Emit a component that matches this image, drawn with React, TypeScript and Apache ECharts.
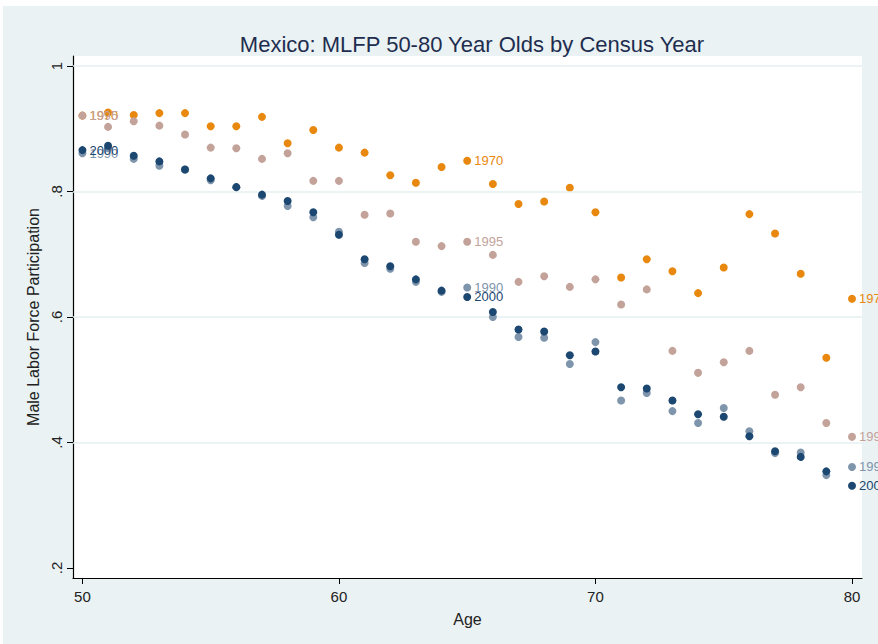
import React, { useEffect, useRef } from "react";
import * as echarts from "echarts";

// Age of respondents (x axis)
const ages: number[] = Array.from({ length: 31 }, (_, i) => 50 + i);

// Male labor force participation by census year
const mlfp1970: number[] = [
  0.921, 0.926, 0.922, 0.925, 0.925, 0.904, 0.904, 0.919, 0.877, 0.898,
  0.870, 0.862, 0.826, 0.814, 0.839, 0.849, 0.812, 0.780, 0.784, 0.806,
  0.767, 0.663, 0.692, 0.673, 0.638, 0.679, 0.764, 0.733, 0.669, 0.535,
  0.629,
];
const mlfp1995: number[] = [
  0.921, 0.903, 0.912, 0.905, 0.891, 0.870, 0.869, 0.852, 0.861, 0.817,
  0.817, 0.763, 0.765, 0.720, 0.713, 0.720, 0.699, 0.656, 0.665, 0.648,
  0.660, 0.620, 0.644, 0.546, 0.511, 0.528, 0.546, 0.476, 0.488, 0.431,
  0.409,
];
const mlfp1990: number[] = [
  0.861, 0.869, 0.852, 0.841, 0.835, 0.818, 0.807, 0.793, 0.777, 0.759,
  0.736, 0.686, 0.677, 0.656, 0.640, 0.647, 0.600, 0.568, 0.567, 0.525,
  0.560, 0.467, 0.479, 0.450, 0.431, 0.455, 0.418, 0.383, 0.384, 0.348,
  0.361,
];
const mlfp2000: number[] = [
  0.866, 0.873, 0.857, 0.848, 0.835, 0.821, 0.807, 0.795, 0.785, 0.767,
  0.731, 0.692, 0.681, 0.660, 0.642, 0.632, 0.608, 0.580, 0.577, 0.539,
  0.545, 0.488, 0.486, 0.467, 0.445, 0.441, 0.410, 0.386, 0.377, 0.354,
  0.331,
];

// Ages at which each series is tagged with its census year
const labelledAges: number[] = [50, 65, 80];

const xTicks: number[] = [50, 60, 70, 80];
const yTicks: number[] = [0.2, 0.4, 0.6, 0.8, 1];
const yGridLines: number[] = [0.4, 0.6, 0.8, 1];

const FONT = "'Liberation Sans', Arial, Helvetica, sans-serif";

const seriesDefs = [
  { name: "1970", values: mlfp1970, color: "#e8880e" },
  { name: "1995", values: mlfp1995, color: "#c3a29a" },
  { name: "1990", values: mlfp1990, color: "#7f95ac" },
  { name: "2000", values: mlfp2000, color: "#1b4770" },
];

export default function App() {
  const ref = useRef<HTMLDivElement>(null);

  useEffect(() => {
    if (!ref.current) return;
    const chart = echarts.init(ref.current, undefined, { renderer: "svg" });

    const scatterSeries = seriesDefs.map((s, k) => ({
      type: "scatter",
      name: s.name,
      symbol: "circle",
      symbolSize: 8,
      z: 3 + k,
      itemStyle: { color: s.color, opacity: 1 },
      label: {
        show: false,
        position: "right",
        distance: 3,
        formatter: s.name,
        color: s.color,
        fontSize: 13,
        fontFamily: FONT,
      },
      data: ages.map((a, i) => ({
        value: [a, s.values[i]],
        label: { show: labelledAges.includes(a) },
      })),
    }));

    chart.setOption({
      animation: false,
      backgroundColor: "#ffffff",
      graphic: [
        {
          type: "rect",
          z: -10,
          silent: true,
          shape: { x: 3, y: 6, width: 875, height: 638 },
          style: { fill: "#eaf2f3" },
        },
      ],
      title: {
        text: "Mexico: MLFP 50-80 Year Olds by Census Year",
        left: 467,
        textAlign: "center",
        top: 28,
        textStyle: {
          fontFamily: FONT,
          fontSize: 22,
          fontWeight: "normal",
          color: "#1e2d4f",
        },
      },
      grid: {
        left: 73,
        top: 56,
        right: 16,
        bottom: 66,
        show: true,
        backgroundColor: "#ffffff",
        borderWidth: 0,
      },
      xAxis: {
        type: "value",
        min: 49.633,
        max: 80.39,
        name: "Age",
        nameLocation: "middle",
        nameGap: 33,
        nameTextStyle: { fontFamily: FONT, fontSize: 16, color: "#222" },
        axisLine: { show: true, lineStyle: { color: "#000", width: 1.2 } },
        axisTick: {
          show: true,
          length: 6,
          customValues: xTicks,
          lineStyle: { color: "#000" },
        },
        axisLabel: {
          customValues: xTicks,
          fontFamily: FONT,
          fontSize: 15,
          color: "#222",
          margin: 11,
        },
        splitLine: { show: false },
      },
      yAxis: {
        type: "value",
        min: 0.184,
        max: 1.016,
        name: "Male Labor Force Participation",
        nameLocation: "middle",
        nameGap: 23,
        nameTextStyle: { fontFamily: FONT, fontSize: 16, color: "#222" },
        axisLine: { show: true, lineStyle: { color: "#000", width: 1.2 } },
        axisTick: {
          show: true,
          length: 6,
          customValues: yTicks,
          lineStyle: { color: "#000" },
        },
        axisLabel: {
          customValues: yTicks,
          rotate: 90,
          fontFamily: FONT,
          fontSize: 15,
          color: "#222",
          margin: 9,
          formatter: (v: number) =>
            v >= 1 ? "1" : "." + Math.round(v * 10).toString(),
        },
        splitLine: { show: false },
      },
      series: [
        {
          type: "line",
          name: "grid",
          data: [],
          silent: true,
          z: 1,
          markLine: {
            silent: true,
            symbol: "none",
            label: { show: false },
            lineStyle: { color: "#e6eff1", width: 1.5, type: "solid" },
            data: yGridLines.map((y) => ({ yAxis: y })),
          },
        },
        ...scatterSeries,
      ],
    });

    return () => chart.dispose();
  }, []);

  return (
    <div
      ref={ref}
      style={{ position: "fixed", left: 0, top: 0, width: 878, height: 644 }}
    />
  );
}
